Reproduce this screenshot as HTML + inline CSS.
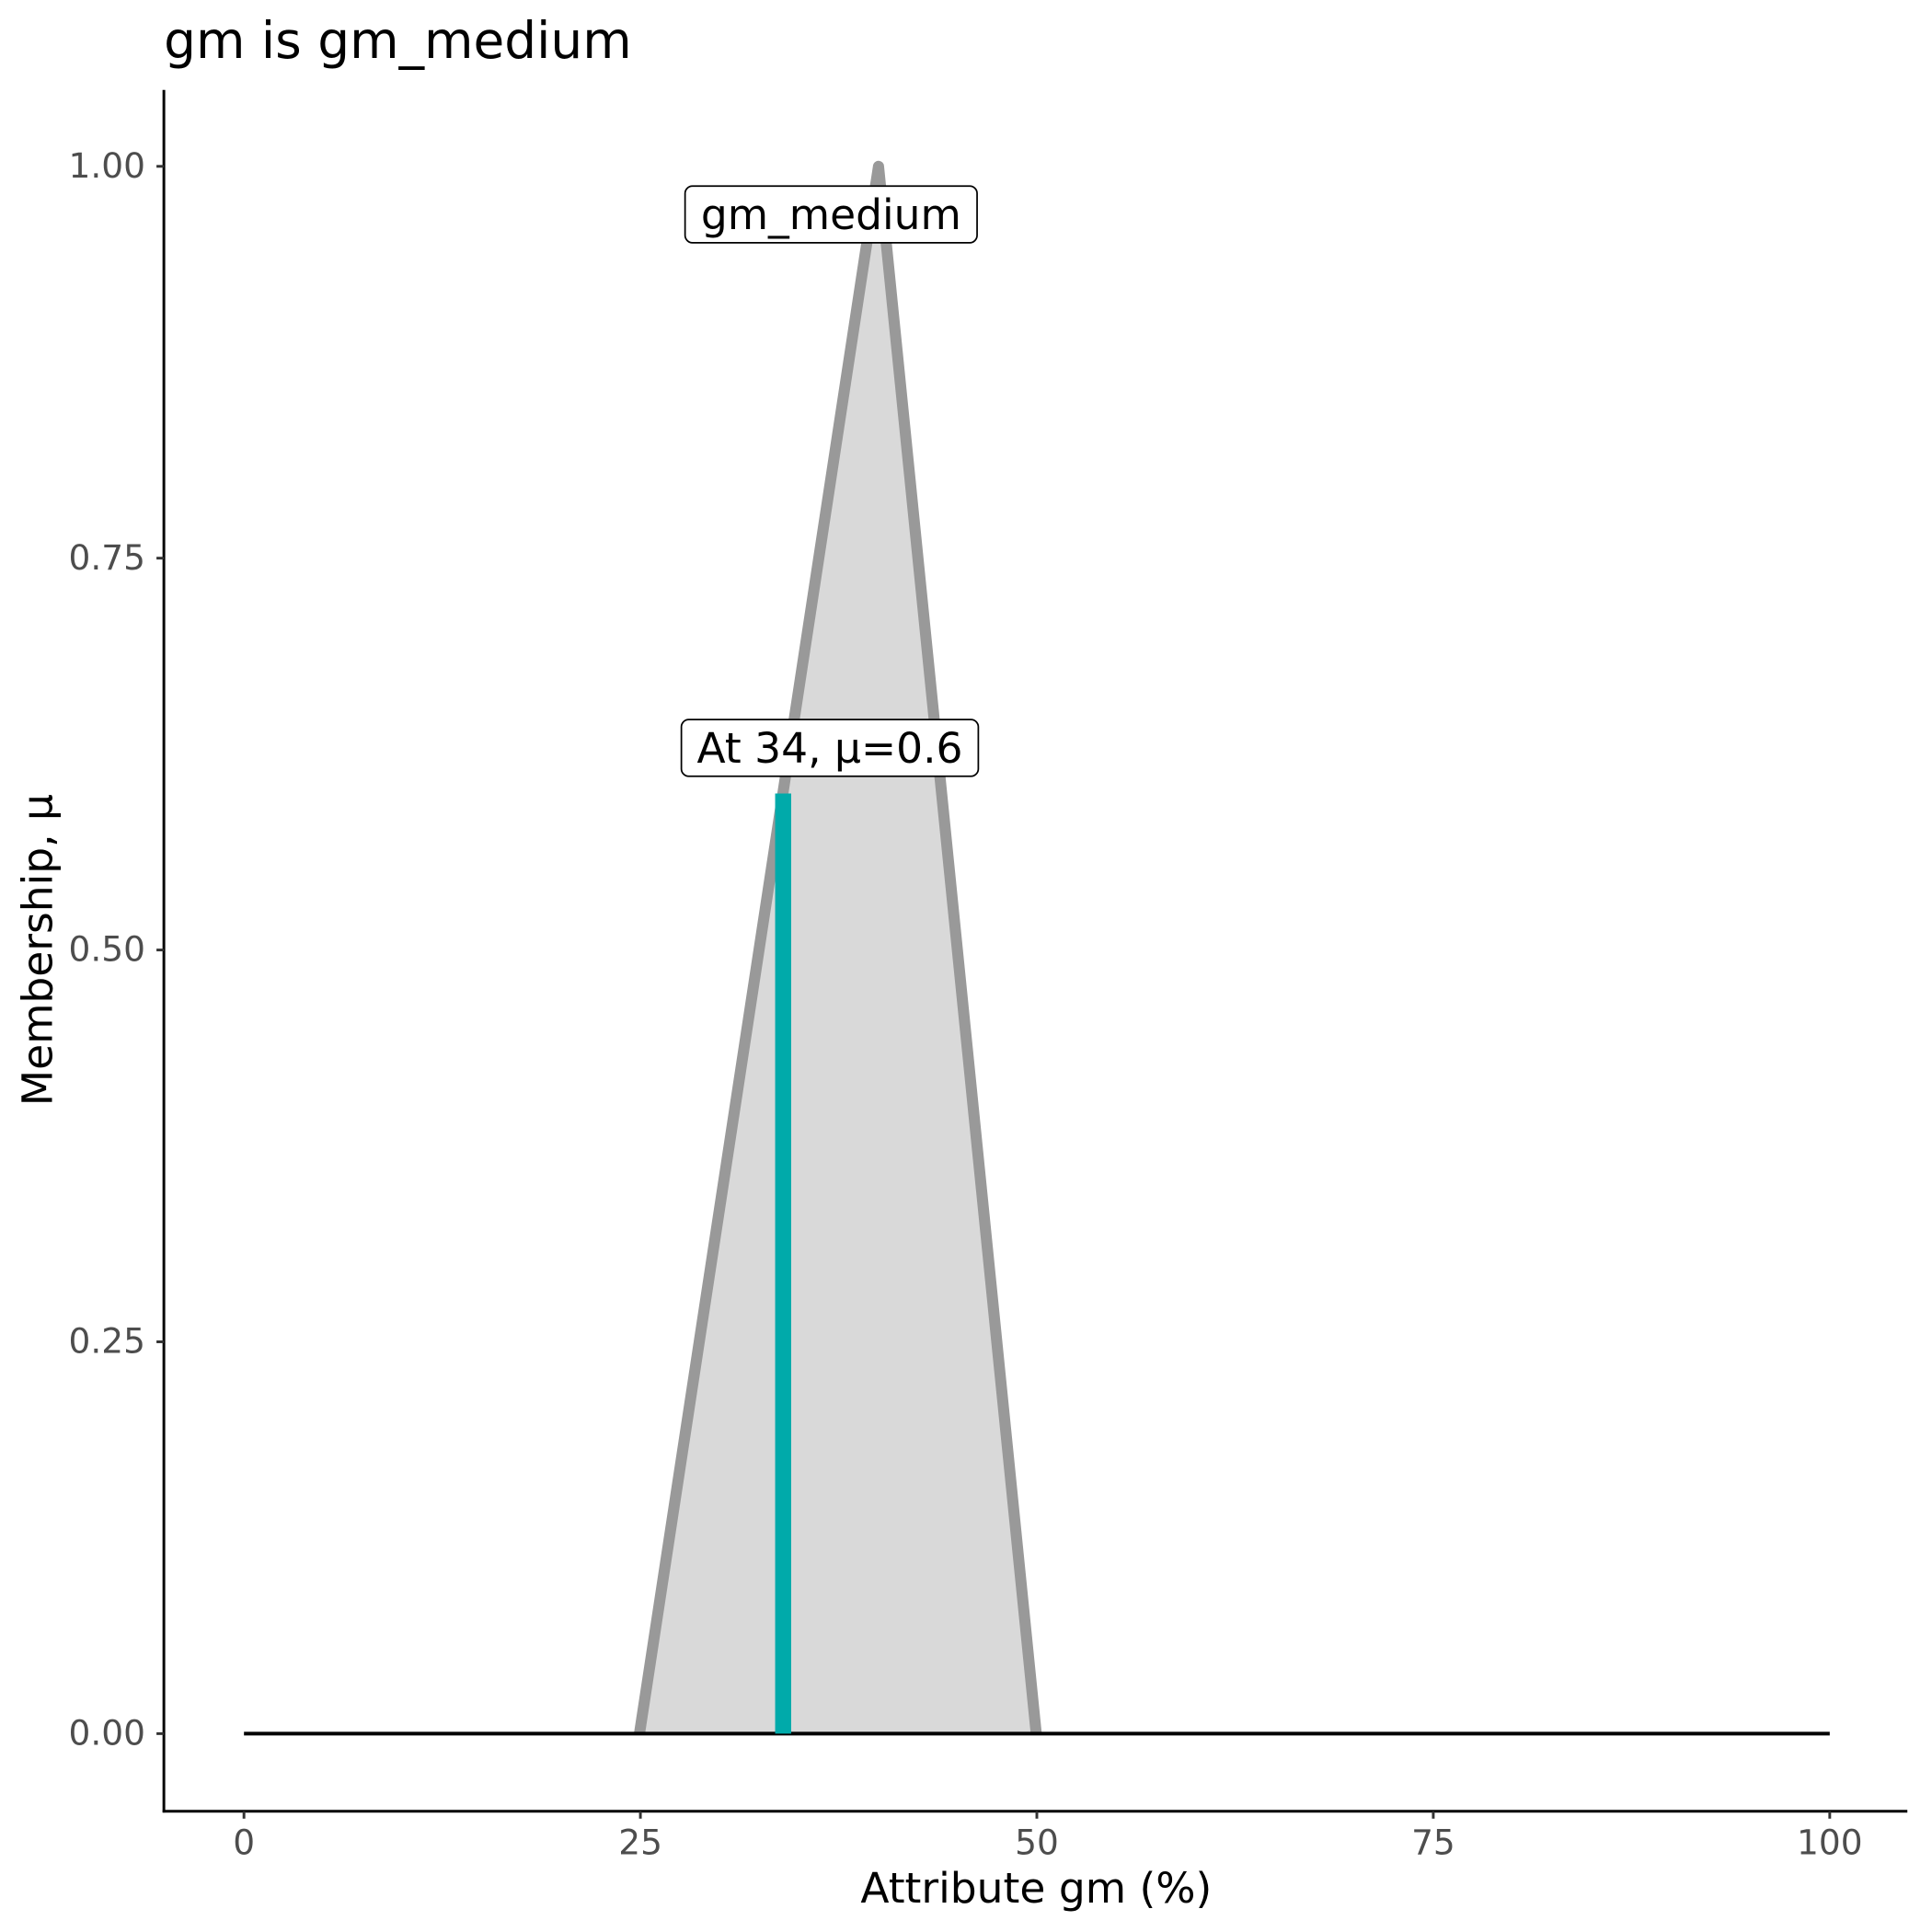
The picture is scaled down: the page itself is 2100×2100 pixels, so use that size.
<!DOCTYPE html>
<html><head><meta charset="utf-8"><style>html,body{margin:0;padding:0;background:#fff}svg{display:block}</style></head>
<body>
<svg width="2100" height="2100" viewBox="0 0 1568 1568" xmlns="http://www.w3.org/2000/svg" font-family="'DejaVu Sans','Liberation Sans',sans-serif">
<rect width="1568" height="1568" fill="#fff"/>
<polygon points="519,1407 713,135 841,1407" fill="#d9d9d9"/>
<polyline points="519,1407 713,135 841,1407" fill="none" stroke="#999999" stroke-width="9" stroke-linejoin="round" stroke-linecap="butt"/>
<line x1="198" y1="1407" x2="1485" y2="1407" stroke="#000" stroke-width="3"/>
<line x1="635.6" y1="1407" x2="635.6" y2="644" stroke="#00aaaa" stroke-width="13"/>
<rect x="556" y="151" width="237" height="46" rx="6" fill="#fff" stroke="#000" stroke-width="1.3"/>
<text x="674.5" y="186" font-size="34px" text-anchor="middle">gm_medium</text>
<rect x="553" y="584" width="241" height="46" rx="6" fill="#fff" stroke="#000" stroke-width="1.3"/>
<text x="673.5" y="619" font-size="34px" text-anchor="middle">At 34, μ=0.6</text>
<line x1="133" y1="73" x2="133" y2="1471" stroke="#000" stroke-width="2.2"/>
<line x1="132" y1="1470" x2="1548" y2="1470" stroke="#000" stroke-width="2.2"/>
<g stroke="#333" stroke-width="2.2">
<line x1="127" y1="1407" x2="133" y2="1407"/><line x1="127" y1="1089" x2="133" y2="1089"/><line x1="127" y1="771" x2="133" y2="771"/><line x1="127" y1="453" x2="133" y2="453"/><line x1="127" y1="135" x2="133" y2="135"/>
<line x1="198" y1="1470" x2="198" y2="1476"/><line x1="519.75" y1="1470" x2="519.75" y2="1476"/><line x1="841.5" y1="1470" x2="841.5" y2="1476"/><line x1="1163.25" y1="1470" x2="1163.25" y2="1476"/><line x1="1485" y1="1470" x2="1485" y2="1476"/>
</g>
<g fill="#4d4d4d" font-size="28px" text-anchor="end">
<text x="118" y="1416">0.00</text><text x="118" y="1098">0.25</text><text x="118" y="780">0.50</text><text x="118" y="462">0.75</text><text x="118" y="144">1.00</text>
</g>
<g fill="#4d4d4d" font-size="28px" text-anchor="middle">
<text x="198" y="1505">0</text><text x="519.75" y="1505">25</text><text x="841.5" y="1505">50</text><text x="1163.25" y="1505">75</text><text x="1485" y="1505">100</text>
</g>
<text x="841" y="1544" font-size="34px" text-anchor="middle">Attribute gm (%)</text>
<text transform="translate(42,771) rotate(-90)" font-size="34px" text-anchor="middle">Membership, μ</text>
<text x="133" y="47" font-size="41px">gm is gm_medium</text>
</svg>
</body></html>
